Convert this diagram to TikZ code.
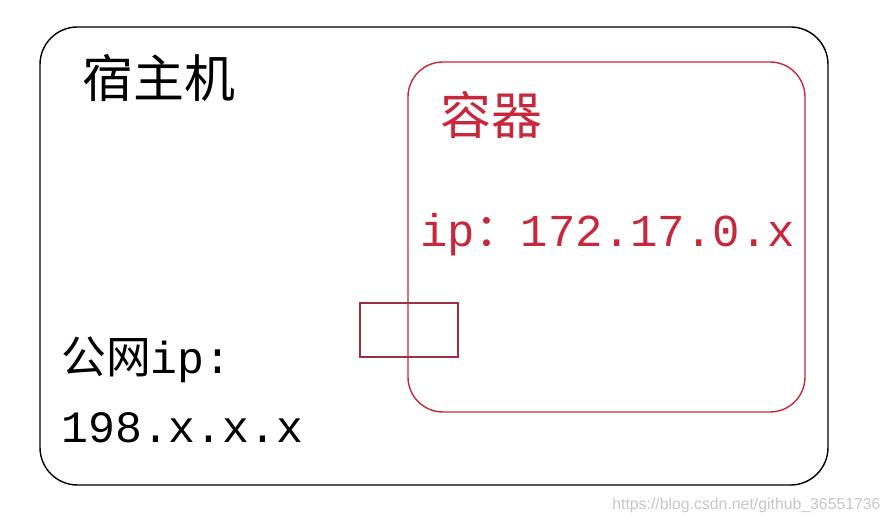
\documentclass[tikz,border=0pt]{standalone}
\usepackage{fontspec}
\newfontfamily\cjk{Noto Sans CJK SC}
\newfontfamily\mono{Liberation Mono}
\newfontfamily\wmark{Liberation Sans}
\definecolor{boxred}{HTML}{C8283C}
\definecolor{darkred}{HTML}{9B3042}
\tikzset{
	lbl/.style={anchor=west, inner sep=0pt},
}
\begin{document}
\begin{tikzpicture}
	\useasboundingbox (0, 0) rectangle (17.8, 10.48);
\fill[white] (0, 0) rectangle (17.8, 10.48);
\draw[thick, rounded corners=0.75cm] (0.8, 0.78) rectangle (16.56, 9.94);
\draw[boxred, thick, rounded corners=0.7cm] (8.16, 2.24) rectangle (16.1, 9.24);
\draw[darkred, thick] (7.2, 3.34) rectangle (9.16, 4.42);
\node[lbl, font=\cjk\fontsize{29}{32}\selectfont] (host) at (1.65, 8.92) {宿主机};
\node[lbl, boxred, font=\cjk\fontsize{29}{32}\selectfont] (ctr) at (8.8, 8.18) {容器};
\node[lbl, boxred, font=\mono\fontsize{26}{28}\selectfont] (cip) at (8.4, 5.78) {ip{\cjk ：}172.17.0.x};
\node[lbl, font=\mono\fontsize{25.5}{28}\selectfont] (pub) at (1.22, 3.28) {{\cjk 公网}ip:};
\node[lbl, font=\mono\fontsize{25.5}{28}\selectfont] (pip) at (1.22, 1.92) {198.x.x.x};
\node[lbl, black!22, font=\wmark\fontsize{9}{10}\selectfont] (url) at (12.24, 0.38) {https://blog.csdn.net/github\_36551736};
\end{tikzpicture}
\end{document}
